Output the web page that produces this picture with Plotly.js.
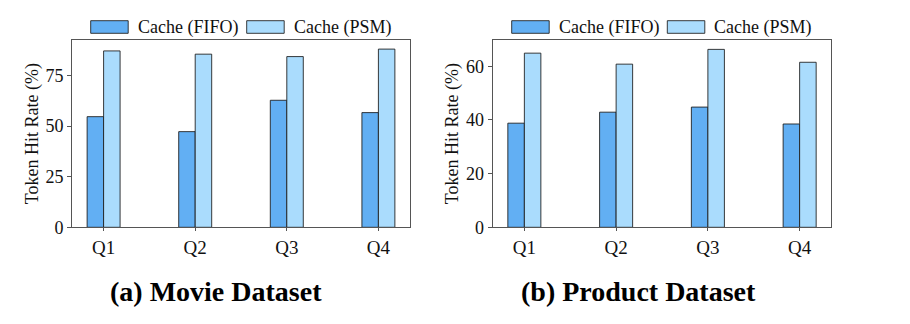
<!DOCTYPE html>
<html>
<head>
<meta charset="utf-8">
<script src="https://cdn.plot.ly/plotly-3.0.1.min.js"></script>
<style>html,body{margin:0;padding:0;background:#fff;}#chart{width:910px;height:324px;}</style>
</head>
<body>
<div id="chart"></div>
<script>
const categories = ["Q1", "Q2", "Q3", "Q4"];
const seriesNames = ["Cache (FIFO)", "Cache (PSM)"];
const movieFIFO = [54.7, 47.3, 62.8, 56.7];
const moviePSM = [87.2, 85.6, 84.4, 88.1];
const productFIFO = [38.8, 42.9, 44.8, 38.5];
const productPSM = [64.9, 60.8, 66.3, 61.5];
const yTicksMovie = [0, 25, 50, 75];
const yTicksProduct = [0, 20, 40, 60];
const captions = ["(a) Movie Dataset", "(b) Product Dataset"];
const yTitle = "Token Hit Rate (%)";

const colFIFO = "#62aff3";
const colPSM = "#aadcfd";
const colors = [colFIFO, colPSM];
const edge = "rgba(25,25,25,0.85)";
const font = "'Liberation Serif', 'DejaVu Serif', serif";

function bar(x, y, name, color, xa, ya) {
  return {type: "bar", x: x, y: y, name: name, xaxis: xa, yaxis: ya, showlegend: false,
    marker: {color: color, line: {color: edge, width: 1}}, hoverinfo: "skip"};
}
const data = [
  bar(categories, movieFIFO, seriesNames[0], colFIFO, "x", "y"),
  bar(categories, moviePSM, seriesNames[1], colPSM, "x", "y"),
  bar(categories, productFIFO, seriesNames[0], colFIFO, "x2", "y2"),
  bar(categories, productPSM, seriesNames[1], colPSM, "x2", "y2")
];

const W = 910, H = 324;
const yTop = 1 - 40 / H, yBot = 1 - 227.3 / H;
function xax(d) {
  return {domain: d, type: "category", range: [-0.345, 3.345], showline: true, mirror: true,
    linecolor: "#555", linewidth: 1, ticks: "outside", ticklen: 3, tickcolor: "#555",
    showgrid: false, zeroline: false, tickfont: {family: font, size: 19, color: "#111"}, fixedrange: true};
}
function yax(r, tv, anchor) {
  return {domain: [yBot, yTop], range: r, anchor: anchor, tickvals: tv, showline: true, mirror: true,
    linecolor: "#555", linewidth: 1, ticks: "outside", ticklen: 4, tickcolor: "#555",
    showgrid: false, zeroline: false, tickfont: {family: font, size: 18, color: "#111"},
    title: {text: yTitle, font: {family: font, size: 18, color: "#111"}, standoff: 2}, fixedrange: true};
}

// manual legend (wide patches like the reference)
const legendPatches = [[90.7, 246.7], [511.7, 667.3]];
const shapes = [], annotations = [];
legendPatches.forEach(function (row) {
  row.forEach(function (x0, i) {
    shapes.push({type: "rect", xref: "paper", yref: "paper", x0: x0 / W, x1: (x0 + 37.5) / W,
      y0: 1 - 33.3 / H, y1: 1 - 20.7 / H, fillcolor: colors[i], line: {color: edge, width: 1}});
    annotations.push({text: seriesNames[i], xref: "paper", yref: "paper", x: (x0 + 45) / W, y: 1 - 27 / H,
      xanchor: "left", yanchor: "middle", showarrow: false, font: {family: font, size: 18, color: "#111"}});
  });
});
annotations.push(
  {text: "<b>" + captions[0] + "</b>", xref: "paper", yref: "paper", x: 216 / W, y: 1 - 291 / H,
   showarrow: false, font: {family: font, size: 28, color: "#000"}, xanchor: "center", yanchor: "middle"},
  {text: "<b>" + captions[1] + "</b>", xref: "paper", yref: "paper", x: 638 / W, y: 1 - 291 / H,
   showarrow: false, font: {family: font, size: 28, color: "#000"}, xanchor: "center", yanchor: "middle"}
);

const layout = {
  width: W, height: H, margin: {l: 0, r: 0, t: 0, b: 0},
  paper_bgcolor: "#fff", plot_bgcolor: "#fff", showlegend: false,
  barmode: "group", bargap: 0.64, bargroupgap: 0,
  xaxis: Object.assign(xax([72 / W, 410 / W]), {anchor: "y"}),
  yaxis: yax([0, 92.6], yTicksMovie, "x"),
  xaxis2: Object.assign(xax([492.7 / W, 831.3 / W]), {anchor: "y2"}),
  yaxis2: yax([0, 69.8], yTicksProduct, "x2"),
  shapes: shapes,
  annotations: annotations
};
Plotly.newPlot("chart", data, layout, {displayModeBar: false, staticPlot: true});
</script>
</body>
</html>
